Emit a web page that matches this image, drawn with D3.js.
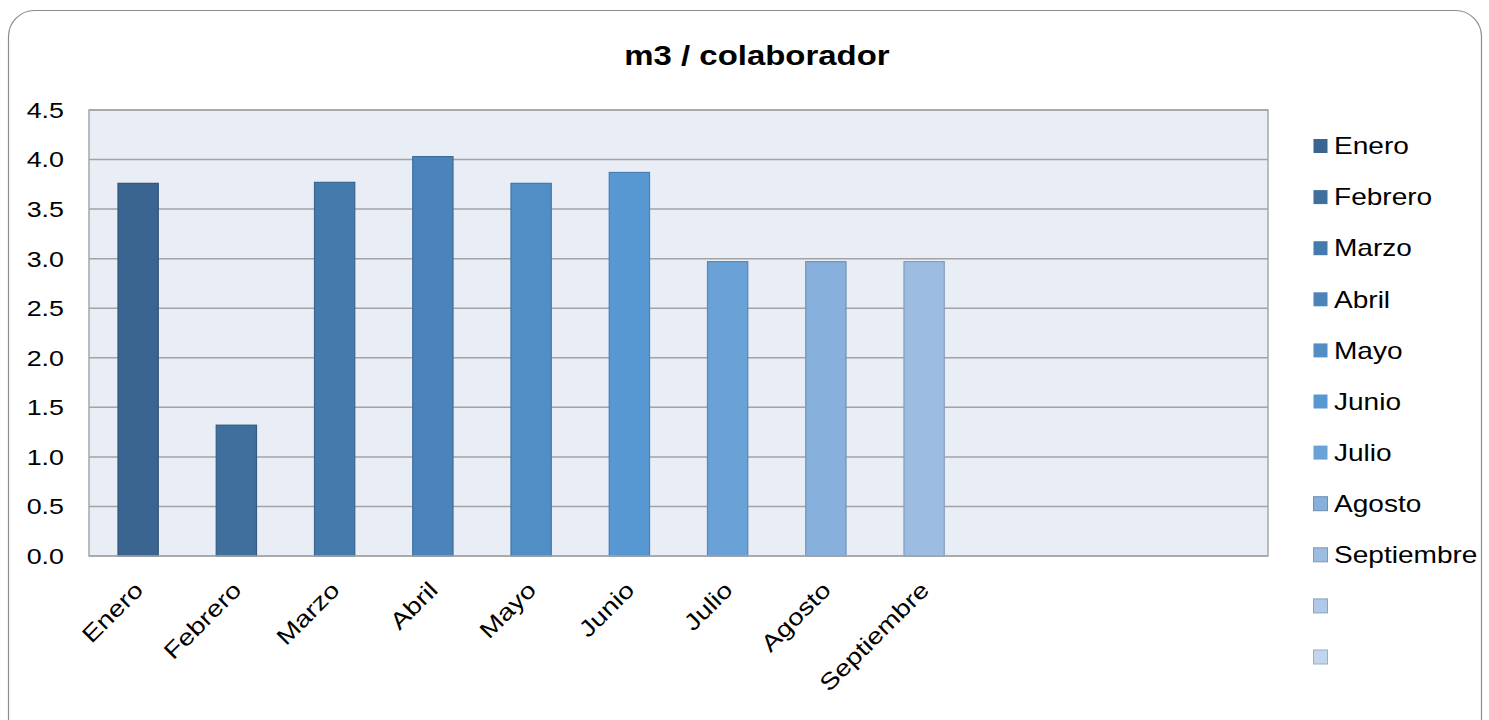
<!DOCTYPE html>
<html lang="es">
<head>
  <meta charset="UTF-8">
  <title>m3 / colaborador</title>
  <script src="https://d3js.org/d3.v7.min.js"></script>
  <style>
    body { margin: 0; background: #fff; }
    svg text { font-family: "Liberation Sans", Arial, sans-serif; fill: #000; }
  </style>
</head>
<body>
  <div id="chart"></div>
  <script>
    const width = 1489, height = 720;

    // data
    const months = ["Enero", "Febrero", "Marzo", "Abril", "Mayo", "Junio", "Julio", "Agosto", "Septiembre", "", "", ""];
    const values = [3.76, 1.32, 3.77, 4.03, 3.76, 3.87, 2.97, 2.97, 2.97, null, null, null];
    const colors = ["#3a6590", "#3f6f9c", "#457aad", "#4b84ba", "#518ec6", "#5898d2", "#6aa2d8", "#88b0dc", "#9dbce2", "#b0c9e8", "#c2d5ee", "#d0def2"];
    const yTicks = [0, 0.5, 1, 1.5, 2, 2.5, 3, 3.5, 4, 4.5];
    const legendCount = 11;

    const margin = { left: 89, top: 110, right: 1268, bottom: 556 };
    const stretch = 1.22; // the source picture is widened horizontally

    const svg = d3.select("#chart").append("svg")
      .attr("width", width)
      .attr("height", height);

    // outer rounded frame
    svg.append("rect")
      .attr("x", 8.5).attr("y", 10.5)
      .attr("width", 1473).attr("height", 740)
      .attr("rx", 26)
      .attr("fill", "#fff")
      .attr("stroke", "#8c8c8c")
      .attr("stroke-width", 1.2);

    svg.append("text")
      .attr("transform", `translate(757,65) scale(${stretch},1)`)
      .attr("text-anchor", "middle")
      .style("font-size", "27px")
      .style("font-weight", "bold")
      .text("m3 / colaborador");

    const x = d3.scaleBand()
      .domain(d3.range(months.length))
      .range([margin.left, margin.right])
      .paddingInner(0.59)
      .paddingOuter(0.295);

    const y = d3.scaleLinear()
      .domain([0, 4.5])
      .range([margin.bottom, margin.top]);

    // plot area
    svg.append("rect")
      .attr("x", margin.left).attr("y", margin.top)
      .attr("width", margin.right - margin.left)
      .attr("height", margin.bottom - margin.top)
      .attr("fill", "#e9edf5")
      .attr("stroke", "#a6a6a6")
      .attr("stroke-width", 1.5);

    svg.append("g")
      .selectAll("line")
      .data(yTicks.slice(1))
      .enter().append("line")
      .attr("x1", margin.left).attr("x2", margin.right)
      .attr("y1", d => y(d)).attr("y2", d => y(d))
      .attr("stroke", "#a3a3a6")
      .attr("stroke-width", 1.5);

    // y tick labels
    svg.append("g")
      .selectAll("text")
      .data(yTicks)
      .enter().append("text")
      .attr("transform", d => `translate(64,${y(d)}) scale(${stretch},1)`)
      .attr("text-anchor", "end")
      .attr("dy", "0.36em")
      .style("font-size", "22px")
      .text(d3.format(".1f"));

    // bars
    svg.append("g")
      .selectAll("rect")
      .data(values.map((v, i) => ({ v, i })).filter(d => d.v != null))
      .enter().append("rect")
      .attr("x", d => x(d.i))
      .attr("width", x.bandwidth())
      .attr("y", d => y(d.v))
      .attr("height", d => y(0) - y(d.v))
      .attr("fill", d => colors[d.i])
      .attr("stroke", d => d3.color(colors[d.i]).darker(0.5))
      .attr("stroke-width", 1.2);

    // baseline
    svg.append("line")
      .attr("x1", margin.left).attr("x2", margin.right)
      .attr("y1", y(0)).attr("y2", y(0))
      .attr("stroke", "#a6a6a6")
      .attr("stroke-width", 1.5);

    // rotated month labels
    svg.append("g")
      .selectAll("text")
      .data(months.map((m, i) => ({ m, i })).filter(d => d.m))
      .enter().append("text")
      .attr("transform", d => `translate(${x(d.i) + x.bandwidth() / 2 - 5},${y(0) + 24}) rotate(-45) scale(${stretch},1)`)
      .attr("text-anchor", "end")
      .attr("dy", "0.7em")
      .style("font-size", "23px")
      .text(d => d.m);

    // legend
    const legend = svg.append("g")
      .selectAll("g")
      .data(d3.range(legendCount))
      .enter().append("g")
      .attr("transform", i => `translate(1313,${146 + i * 51.1})`);

    legend.append("rect")
      .attr("x", 0.5).attr("y", -7)
      .attr("width", 14).attr("height", 14)
      .attr("fill", i => colors[i])
      .attr("stroke", i => i >= 7 ? d3.color(colors[i]).darker(0.6) : "none")
      .attr("stroke-width", 1);

    legend.append("text")
      .attr("transform", `translate(21,0) scale(${stretch},1)`)
      .attr("dy", "0.36em")
      .style("font-size", "23px")
      .text(i => months[i]);
  </script>
</body>
</html>
